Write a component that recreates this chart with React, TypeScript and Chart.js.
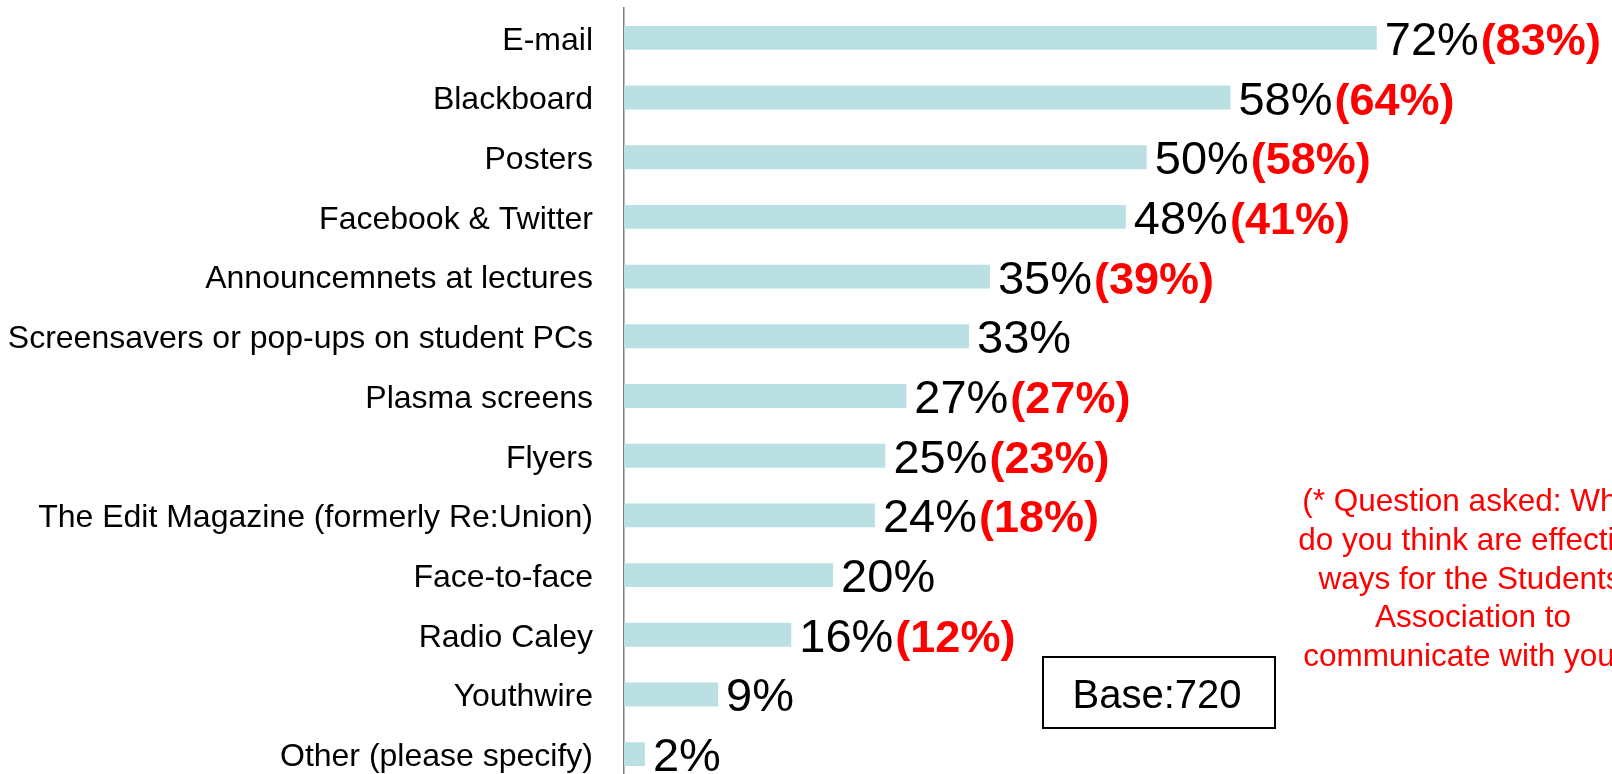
import React, { useEffect, useRef } from "react";
import { Chart, registerables } from "chart.js";

Chart.register(...registerables);

const categories = [
  "E-mail",
  "Blackboard",
  "Posters",
  "Facebook & Twitter",
  "Announcemnets at lectures",
  "Screensavers or pop-ups on student PCs",
  "Plasma screens",
  "Flyers",
  "The Edit Magazine (formerly Re:Union)",
  "Face-to-face",
  "Radio Caley",
  "Youthwire",
  "Other (please specify)",
];

const currentValues = [72, 58, 50, 48, 35, 33, 27, 25, 24, 20, 16, 9, 2];

const previousValues: (number | null)[] = [83, 64, 58, 41, 39, null, 27, 23, 18, null, 12, null, null];

const noteLines = [
  "(* Question asked: What",
  "do you think are effective",
  "ways for the Students'",
  "Association to",
  "communicate with you?)",
];

const baseLabel = "Base:720";

const FONT = "'Liberation Sans', Arial, Helvetica, sans-serif";

export default function App() {
  const canvasRef = useRef<HTMLCanvasElement | null>(null);

  useEffect(() => {
    const canvas = canvasRef.current;
    if (!canvas) return;

    const labelPlugin = {
      id: "valueLabels",
      afterDatasetsDraw(chart: any) {
        const ctx = chart.ctx;
        const meta = chart.getDatasetMeta(0);
        ctx.save();
        ctx.textAlign = "left";
        ctx.textBaseline = "alphabetic";
        meta.data.forEach((bar: any, i: number) => {
          const txt = `${currentValues[i]}%`;
          const x = bar.x + 8;
          const y = bar.y + 17;
          ctx.font = `47px ${FONT}`;
          ctx.fillStyle = "#000000";
          ctx.fillText(txt, x, y);
          const w = ctx.measureText(txt).width;
          const p = previousValues[i];
          if (p !== null && p !== undefined) {
            ctx.font = `bold 45px ${FONT}`;
            ctx.fillStyle = "#FF0000";
            ctx.fillText(`(${p}%)`, x + w + 2, y);
          }
        });
        ctx.restore();
      },
      afterDraw(chart: any) {
        const ctx = chart.ctx;
        ctx.save();
        // Base box
        ctx.strokeStyle = "#000000";
        ctx.lineWidth = 2;
        ctx.strokeRect(1043, 657, 232, 71);
        ctx.font = `40px ${FONT}`;
        ctx.fillStyle = "#000000";
        ctx.textAlign = "center";
        ctx.textBaseline = "alphabetic";
        ctx.fillText(baseLabel, 1157, 708);
        // Note
        ctx.font = `31.5px ${FONT}`;
        ctx.fillStyle = "#FF0000";
        noteLines.forEach((line, i) => {
          ctx.fillText(line, 1473, 511 + i * 38.75);
        });
        ctx.restore();
      },
    };

    const chart = new Chart(canvas, {
      type: "bar",
      data: {
        labels: categories,
        datasets: [
          {
            data: currentValues,
            backgroundColor: "#BAE0E3",
            borderWidth: 0,
            barPercentage: 0.4,
            categoryPercentage: 1,
          },
        ],
      },
      options: {
        indexAxis: "y",
        responsive: false,
        animation: false,
        devicePixelRatio: 1,
        layout: { padding: { top: 8, bottom: 16, left: 0, right: 0 } },
        plugins: {
          legend: { display: false },
          tooltip: { enabled: false },
          title: { display: false },
        },
        scales: {
          x: {
            display: false,
            min: 0,
            max: 94.5,
            grid: { display: false },
          },
          y: {
            grid: { display: false, drawTicks: false },
            border: { display: true, color: "#7f7f7f", width: 1.5 },
            ticks: {
              color: "#000000",
              padding: 31,
              labelOffset: 3,
              font: { family: FONT, size: 32 },
            },
            afterFit(scale: any) {
              scale.width = 624;
              scale.paddingTop = 0;
              scale.paddingBottom = 0;
            },
          },
        },
      },
      plugins: [labelPlugin],
    });

    return () => {
      chart.destroy();
    };
  }, []);

  return (
    <div
      style={{
        position: "fixed",
        left: 0,
        top: 0,
        width: 1612,
        height: 774,
        overflow: "hidden",
        background: "#ffffff",
      }}
    >
      <canvas ref={canvasRef} width={1612} height={800} style={{ display: "block" }} />
    </div>
  );
}
